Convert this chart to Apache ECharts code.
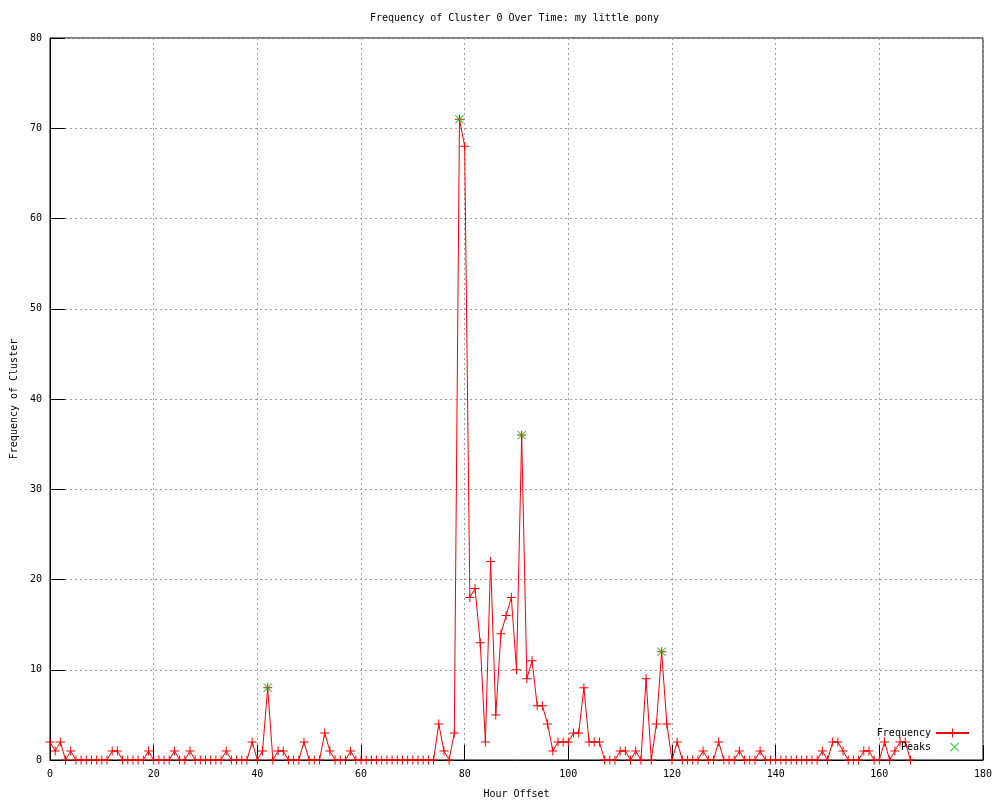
<!DOCTYPE html>
<html>
<head>
<meta charset="utf-8">
<script src="https://cdn.jsdelivr.net/npm/echarts@6/dist/echarts.min.js"></script>
<style>
html,body{margin:0;padding:0;background:#fff;}
#chart{width:1000px;height:800px;}
</style>
</head>
<body>
<div id="chart"></div>
<script>
// Frequency of cluster 0 per hour offset (index = hour offset, 0..166)
var freq = [
  2,1,2,0,1,0,0,0,0,0,
  0,0,1,1,0,0,0,0,0,1,
  0,0,0,0,1,0,0,1,0,0,
  0,0,0,0,1,0,0,0,0,2,
  0,1,8,0,1,1,0,0,0,2,
  0,0,0,3,1,0,0,0,1,0,
  0,0,0,0,0,0,0,0,0,0,
  0,0,0,0,0,4,1,0,3,71,
  68,18,19,13,2,22,5,14,16,18,
  10,36,9,11,6,6,4,1,2,2,
  2,3,3,8,2,2,2,0,0,0,
  1,1,0,1,0,9,0,4,12,4,
  0,2,0,0,0,0,1,0,0,2,
  0,0,0,1,0,0,0,1,0,0,
  0,0,0,0,0,0,0,0,0,1,
  0,2,2,1,0,0,0,1,1,0,
  0,2,0,1,2,2,0
];
var peakHours = [42, 79, 91, 118];
var peakValues = [8, 71, 36, 12];
var xTicks = {min: 0, max: 180, step: 20};
var yTicks = {min: 0, max: 80, step: 10};

var freqData = freq.map(function (v, i) { return [i, v]; });
var peakData = peakHours.map(function (h, i) { return [h, peakValues[i]]; });

var FONT = '"DejaVu Sans Mono", "Liberation Mono", monospace';
var plusPath = 'path://M4,0H5V4H9V5H5V9H4V5H0V4H4Z';
var crossPath = 'path://M0,0.7L0.7,0L4.5,3.8L8.3,0L9,0.7L5.2,4.5L9,8.3L8.3,9L4.5,5.2L0.7,9L0,8.3L3.8,4.5Z';
var RED = '#ff0000', GREEN = '#00c000';

var chart = echarts.init(document.getElementById('chart'), null, {renderer: 'canvas'});
chart.setOption({
  animation: false,
  backgroundColor: '#ffffff',
  title: {
    text: 'Frequency of Cluster 0 Over Time: my little pony',
    left: 370, top: 13, padding: 0,
    textStyle: {fontFamily: FONT, fontSize: 10, fontWeight: 'normal', color: '#000'}
  },
  legend: [{
    data: ['Frequency'], orient: 'vertical', align: 'right',
    right: 30, top: 728, padding: 0, itemWidth: 33, itemHeight: 11,
    textStyle: {fontFamily: FONT, fontSize: 10, color: '#000'}
  }, {
    data: ['Peaks'], orient: 'vertical', align: 'right',
    right: 41, top: 742, padding: 0, itemWidth: 9, itemHeight: 9,
    textStyle: {fontFamily: FONT, fontSize: 10, color: '#000', padding: [0, 14, 0, 0]}
  }],
  grid: {left: 50, right: 17, top: 38, bottom: 40, show: true, borderColor: '#000', borderWidth: 1,
         containLabel: false, outerBoundsMode: 'none'},
  xAxis: {
    type: 'value', min: xTicks.min, max: xTicks.max, interval: xTicks.step,
    name: 'Hour Offset', nameLocation: 'middle', nameGap: 29,
    nameTextStyle: {fontFamily: FONT, fontSize: 10, color: '#000'},
    axisLine: {show: true, lineStyle: {color: '#000', width: 1}},
    axisTick: {show: true, inside: true, length: 15, lineStyle: {color: '#000', width: 1}},
    axisLabel: {fontFamily: FONT, fontSize: 10, color: '#000', margin: 9},
    splitLine: {show: true, lineStyle: {color: '#a0a0a0', type: [2, 3], width: 1}}
  },
  yAxis: {
    type: 'value', min: yTicks.min, max: yTicks.max, interval: yTicks.step,
    name: 'Frequency of Cluster', nameLocation: 'middle', nameGap: 31, nameRotate: 90,
    nameTextStyle: {fontFamily: FONT, fontSize: 10, color: '#000'},
    axisLine: {show: true, lineStyle: {color: '#000', width: 1}},
    axisTick: {show: true, inside: true, length: 15, lineStyle: {color: '#000', width: 1}},
    axisLabel: {fontFamily: FONT, fontSize: 10, color: '#000', margin: 8},
    splitLine: {show: true, lineStyle: {color: '#a0a0a0', type: [2, 3], width: 1}}
  },
  series: [{
    name: 'Frequency', type: 'line', data: freqData,
    symbol: plusPath, symbolSize: 9, showAllSymbol: true,
    lineStyle: {color: RED, width: 1},
    itemStyle: {color: RED},
    emphasis: {disabled: true},
    clip: false, z: 2
  }, {
    name: 'Peaks', type: 'scatter', data: peakData,
    symbol: crossPath, symbolSize: 9,
    itemStyle: {color: GREEN},
    emphasis: {disabled: true},
    z: 3
  }]
});
</script>
</body>
</html>
